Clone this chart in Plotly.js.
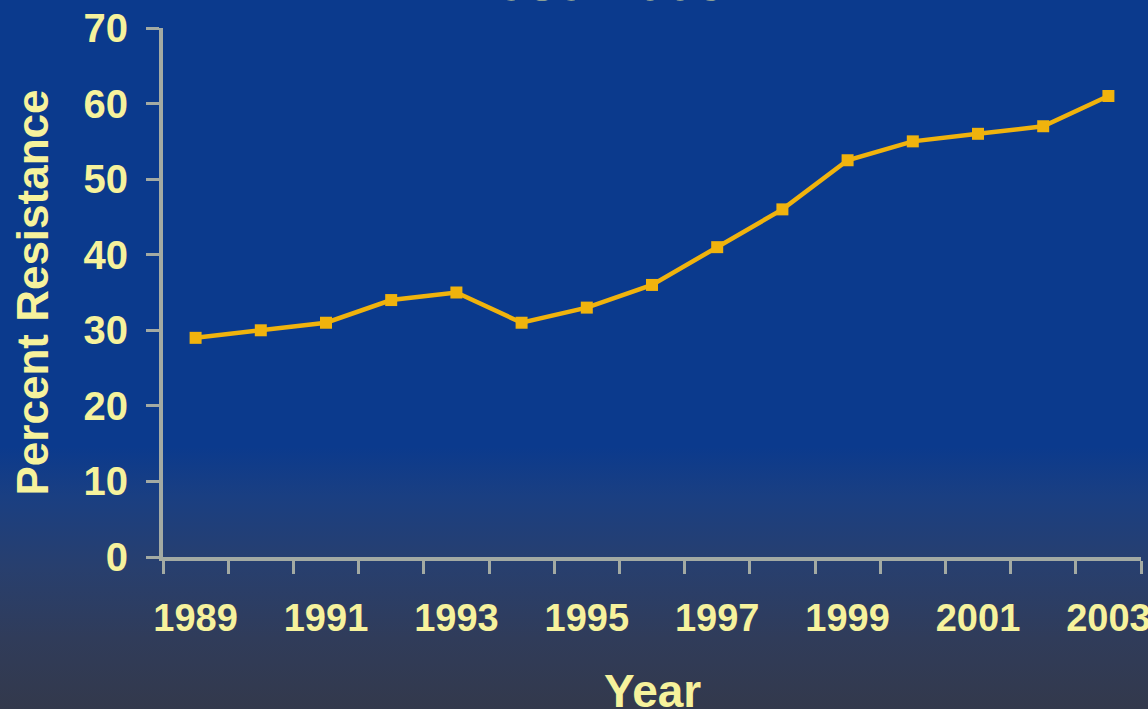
<!DOCTYPE html>
<html>
<head>
<meta charset="utf-8">
<script src="https://cdn.plot.ly/plotly-3.0.1.min.js"></script>
<style>
html,body{margin:0;padding:0;width:1148px;height:709px;overflow:hidden;}
body{background:linear-gradient(to bottom,#0b3a8d 0%,#0b3a8d 63%,#1a3f82 70%,#283f6e 80%,#303c5a 90%,#33394c 100%);}
#chart{width:1148px;height:709px;}
</style>
</head>
<body>
<div id="chart"></div>
<script>
const years = ['1989','1990','1991','1992','1993','1994','1995','1996','1997','1998','1999','2000','2001','2002','2003'];
const resistance = [29, 30, 31, 34, 35, 31, 33, 36, 41, 46, 52.5, 55, 56, 57, 61];
const yTicks = [0, 10, 20, 30, 40, 50, 60, 70];
const chartTitle = '1989-2003';
const xTitle = 'Year';
const yTitle = 'Percent Resistance';

const txt = '#f6f29c';
const axisCol = '#a3aaa3';
const xLabels = years.map((y, i) => (i % 2 === 0 ? y : ''));

const trace = {
  type: 'scatter',
  mode: 'lines+markers',
  x: years,
  y: resistance,
  line: {color: '#f0b30d', width: 4.5},
  marker: {symbol: 'square', size: 12, color: '#f0b30d'},
  hoverinfo: 'x+y'
};

const layout = {
  width: 1148, height: 709,
  margin: {l: 163, r: 7, t: 28, b: 152},
  paper_bgcolor: 'rgba(0,0,0,0)',
  plot_bgcolor: 'rgba(0,0,0,0)',
  showlegend: false,
  font: {family: 'Liberation Sans, Arial, sans-serif', color: txt},
  xaxis: {
    type: 'category',
    range: [-0.5, years.length - 0.5],
    tickmode: 'array', tickvals: years, ticktext: xLabels,
    tickson: 'boundaries', tickangle: 0,
    ticks: 'outside', ticklen: 13, tickwidth: 3, tickcolor: axisCol,
    showline: true, linecolor: axisCol, linewidth: 4,
    showgrid: false, zeroline: false,
    tickfont: {size: 38, color: txt, family: 'Liberation Sans, Arial, sans-serif', weight: 'bold'},
    ticklabelstandoff: 24
  },
  yaxis: {
    range: [0, 70],
    tickmode: 'array', tickvals: yTicks,
    ticks: 'outside', ticklen: 13, tickwidth: 3, tickcolor: axisCol,
    showline: true, linecolor: axisCol, linewidth: 4,
    showgrid: false, zeroline: false,
    tickfont: {size: 40, color: txt, family: 'Liberation Sans, Arial, sans-serif', weight: 'bold'},
    ticklabelstandoff: 10,
    title: {text: '<b>' + yTitle + '</b>', font: {size: 44, color: txt}, standoff: 22}
  },
  annotations: [{
    text: '<b>' + chartTitle + '</b>',
    xref: 'paper', yref: 'paper', x: 0.443, y: 1.028,
    xanchor: 'center', yanchor: 'bottom', showarrow: false,
    font: {size: 54, color: txt}
  }, {
    text: '<b>' + xTitle + '</b>',
    xref: 'paper', yref: 'paper', x: 0.5, y: -0.253,
    xanchor: 'center', yanchor: 'middle', showarrow: false,
    font: {size: 46, color: txt}
  }]
};

Plotly.newPlot('chart', [trace], layout, {displayModeBar: false, staticPlot: true});
</script>
</body>
</html>
